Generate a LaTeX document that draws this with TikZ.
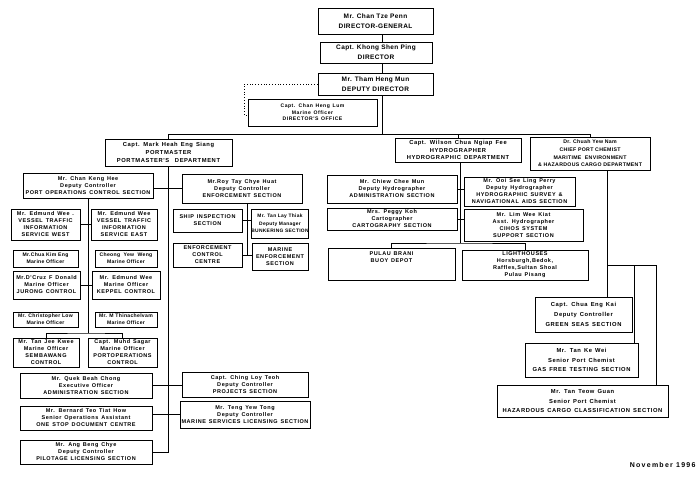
\documentclass[tikz,border=0pt]{standalone}
\usepackage{fontspec}
\setmainfont{Liberation Sans}
\newfontfamily\of[LetterSpace=6]{Liberation Sans}
\newfontfamily\ofa[LetterSpace=10,WordSpace=1.4]{Liberation Sans}
\newfontfamily\ofw[LetterSpace=18]{Liberation Sans}
\tikzset{
 box/.style={draw, line width=0.9pt, rectangle, inner sep=0pt, align=center, font=\ofa\bfseries\fontsize{5.5}{7}\selectfont},
 nar/.style={font=\of\bfseries\fontsize{5.1}{7}\selectfont},
 bunkf/.style={font=\of\bfseries\fontsize{4.9}{7.6}\selectfont},
 big/.style={font=\of\bfseries\fontsize{6.5}{10}\selectfont},
 mid/.style={font=\ofa\bfseries\fontsize{5.8}{7.8}\selectfont},
 chf/.style={font=\of\bfseries\fontsize{5.2}{7.6}\selectfont},
 tiny/.style={font=\ofa\bfseries\fontsize{5.1}{6.4}\selectfont},
 chem/.style={font=\ofa\bfseries\fontsize{5.8}{9.6}\selectfont},
 conn/.style={line width=0.8pt},
}
\newcommand\bx[7][]{\node[box,#1,minimum width={(#4-#2)*1pt},minimum height={(#5-#3)*1pt}] (#6) at ({(#2+#4)/2},{(#3+#5)/2}) {#7};}
\begin{document}
\begin{tikzpicture}[x=1pt,y=-1pt]
\useasboundingbox (0,0) rectangle (700,479);
\fill[white] (0,0) rectangle (700,479);
% top
\bx[big]{318}{8}{433}{34}{dg}{Mr. Chan Tze Penn\\DIRECTOR-GENERAL}
\bx[big]{320}{42}{432}{63}{dir}{Capt. Khong Shen Ping\\DIRECTOR}
\bx[big]{318}{73}{433}{95}{dd}{Mr. Tham Heng Mun\\DEPUTY DIRECTOR}
\bx[tiny]{248}{99}{377}{126}{do}{Capt. Chan Heng Lum\\Marine Officer\\DIRECTOR'S OFFICE}
% departments
\bx[mid]{105}{139}{232}{166}{pm}{Capt. Mark Heah Eng Siang\\PORTMASTER\\PORTMASTER'S\quad DEPARTMENT}
\bx[mid]{395}{138}{521}{162}{hy}{Capt. Wilson Chua Ngiap Fee\\HYDROGRAPHER\\HYDROGRAPHIC DEPARTMENT}
\bx[chf]{530}{137}{650}{170}{ch}{Dr. Chuah Yew Nam\\CHIEF PORT CHEMIST\\MARITIME\ \ ENVIRONMENT\\\& HAZARDOUS CARGO DEPARTMENT}
% port operations
\bx{23}{173}{153}{198}{poc}{Mr. Chan Keng Hee\\Deputy Controller\\PORT OPERATIONS CONTROL SECTION}
\bx{11}{209}{80}{240}{vw}{Mr. Edmund Wee .\\VESSEL TRAFFIC\\INFORMATION\\SERVICE WEST}
\bx{91}{209}{157}{240}{ve}{Mr. Edmund Wee\\VESSEL TRAFFIC\\INFORMATION\\SERVICE EAST}
\bx[nar]{13}{250}{78}{267}{chua}{Mr.Chua Kim Eng\\Marine Officer}
\bx[nar]{95}{250}{157}{267}{cheong}{Cheong\ \ Yew\ \ Weng\\Marine Officer}
\bx{13}{271}{80}{299}{dcruz}{Mr.D'Cruz F Donald\\Marine Officer\\JURONG CONTROL}
\bx{92}{271}{160}{299}{keppel}{Mr. Edmund Wee\\Marine Officer\\KEPPEL CONTROL}
\bx[nar]{13}{312}{78}{327}{low}{Mr. Christopher Low\\Marine Officer}
\bx[nar]{95}{312}{157}{327}{thina}{Mr. M Thinachelvam\\Marine Officer}
\bx{13}{338}{79}{367}{tan}{Mr. Tan Jee Kwee\\Marine Officer\\SEMBAWANG\\CONTROL}
\bx{88}{338}{157}{367}{sagar}{Capt. Muhd Sagar\\Marine Officer\\PORTOPERATIONS\\CONTROL}
\bx{20}{373}{152}{398}{admin}{Mr. Quek Beah Chong\\Executive Officer\\ADMINISTRATION SECTION}
\bx{20}{406}{152}{430}{onestop}{Mr. Bernard Teo Tiat How\\Senior Operations Assistant\\ONE STOP DOCUMENT CENTRE}
\bx{20}{440}{152}{464}{pilot}{Mr. Ang Beng Chye\\Deputy Controller\\PILOTAGE LICENSING SECTION}
\bx{182}{372}{308}{397}{proj}{Capt. Ching Loy Teoh\\Deputy Controller\\PROJECTS SECTION}
\bx{180}{401}{310}{428}{msl}{Mr. Teng Yew Tong\\Deputy Controller\\MARINE SERVICES LICENSING SECTION}
% enforcement
\bx{182}{174}{302}{203}{enf}{Mr.Roy Tay Chye Huat\\Deputy Controller\\ENFORCEMENT SECTION}
\bx{173}{209}{242}{232}{ship}{SHIP INSPECTION\\SECTION}
\bx[bunkf]{252}{209}{308}{238}{bunk}{Mr. Tan Lay Thiak\\Deputy Manager\\BUNKERING SECTION}
\bx{173}{243}{242}{267}{ecc}{ENFORCEMENT\\CONTROL\\CENTRE}
\bx{252}{243}{308}{270}{menf}{MARINE\\ENFORCEMENT\\SECTION}
% hydrographic
\bx{327}{175}{457}{203}{hadm}{Mr. Chiew Chee Mun\\Deputy Hydrographer\\ADMINISTRATION SECTION}
\bx{464}{177}{575}{206}{hsurv}{Mr. Ooi See Ling Perry\\Deputy Hydrographer\\HYDROGRAPHIC SURVEY \&\\NAVIGATIONAL AIDS SECTION}
\bx{327}{208}{457}{230}{carto}{Mrs. Peggy Koh\\Cartographer\\CARTOGRAPHY SECTION}
\bx{464}{209}{583}{241}{cihos}{Mr. Lim Wee Kiat\\Asst. Hydrographer\\CIHOS SYSTEM\\SUPPORT SECTION}
\bx{328}{248}{455}{280}{brani}{}
\node[box,draw=none,anchor=north] (branit) at ([yshift=-4pt]brani.north) {PULAU BRANI\\BUOY DEPOT};
\bx{462}{250}{588}{280}{light}{LIGHTHOUSES\\Horsburgh,Bedok,\\Raffles,Sultan Shoal\\Pulau Pisang}
% chemist
\bx[chem]{535}{297}{632}{332}{green}{Capt. Chua Eng Kai\\Deputy Controller\\GREEN SEAS SECTION}
\bx[chem]{525}{343}{638}{377}{gas}{Mr. Tan Ke Wei\\Senior Port Chemist\\GAS FREE TESTING SECTION}
\bx[chem]{497}{385}{668}{417}{haz}{Mr. Tan Teow Guan\\Senior Port Chemist\\HAZARDOUS CARGO CLASSIFICATION SECTION}
\node[anchor=east,font=\ofw\bfseries\fontsize{7}{8}\selectfont] (date) at (699,465) {November 1996};
% connector coordinates
\coordinate (ddv) at (382,134);
\coordinate (busL) at (168.5,134);
\coordinate (busR) at (590,134);
\coordinate (dotc) at (244,115);
\coordinate (br) at (88,333);
\coordinate (ev) at (247,256);
\coordinate (hv) at (460.5,243);
\coordinate (cv) at (607,265);
\coordinate (cv2) at (634,265);
\coordinate (cv3) at (656,265);
% connectors
\draw[conn] (dg.south -| ddv) -- (dir.north -| ddv);
\draw[conn] (dir.south -| ddv) -- (dd.north -| ddv);
\draw[conn] (dd.south -| ddv) -- (ddv);
\draw[conn,dotted,line width=1pt] (dd.west) -| (dotc) -- (do.west |- dotc);
\draw[conn] (pm.north) -- (busL) -- (busR) -- (ch.north);
\draw[conn] (hy.north) -- (hy.north |- busL);
% portmaster
\draw[conn] (pm.south) -- (pm.south |- pilot.east) -- (pilot.east);
\draw[conn] (poc.east |- enf.west) -- (enf.west);
\draw[conn] (admin.east) -- (admin.east -| proj.west);
\draw[conn] (onestop.east |- msl.west) -- (msl.west);
% port operations control
\draw[conn] (poc.south) -- (br);
\draw[conn] (tan.north) |- (br) -| (sagar.north);
\draw[conn] (vw.east) -- (ve.west);
\draw[conn] (dcruz.east) -- (keppel.west);
% enforcement
\draw[conn] (enf.south -| ev) -- (ev);
\draw[conn] (ship.east) -- (ship.east -| bunk.west);
\draw[conn] (ecc.east) -- (ecc.east -| menf.west);
% hydrographic
\draw[conn] (hy.south -| hv) -- (hv);
\draw[conn] (hadm.east) -- (hadm.east -| hsurv.west);
\draw[conn] (carto.east) -- (carto.east -| cihos.west);
\draw[conn] (brani.north) |- (hv) -| (light.north);
% chemist
\draw[conn] (ch.south -| cv) -- (cv) -- (green.north -| cv);
\draw[conn] (cv) -- (cv3);
\draw[conn] (cv2) -- (gas.north -| cv2);
\draw[conn] (cv3) -- (haz.north -| cv3);
\end{tikzpicture}
\end{document}
